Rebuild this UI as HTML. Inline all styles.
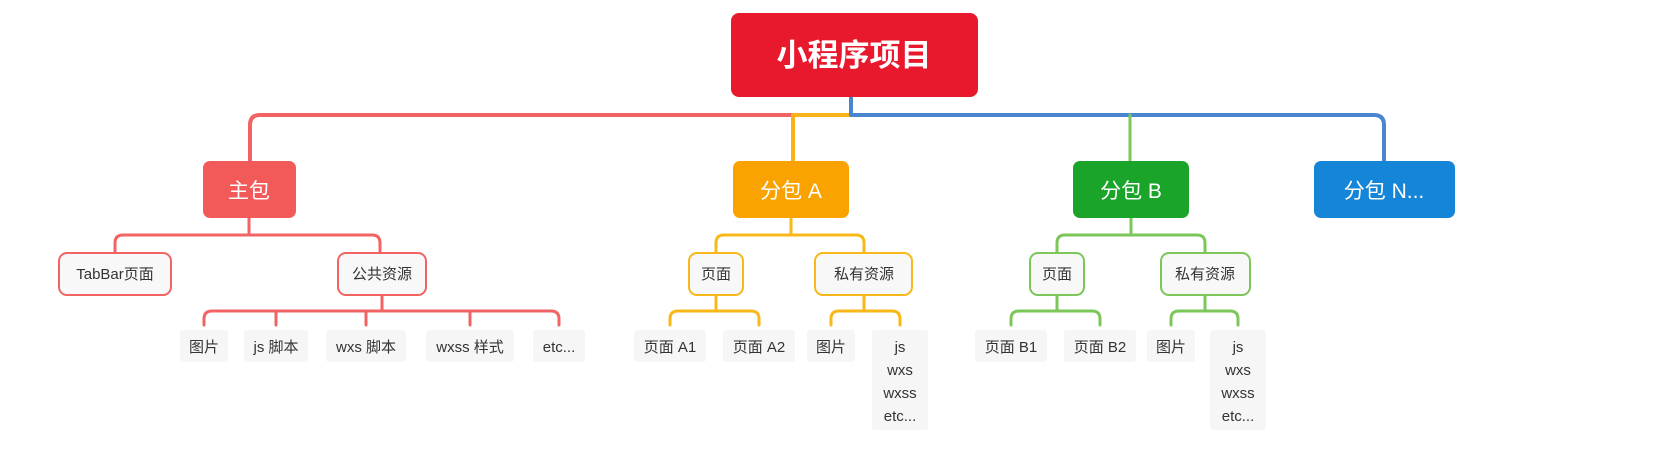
<!DOCTYPE html>
<html><head><meta charset="utf-8"><style>
html,body{margin:0;padding:0;background:#fff;width:1653px;height:450px;overflow:hidden}
svg text{font-family:"Liberation Sans","Noto Sans CJK SC",sans-serif}
</style></head><body>
<svg width="1653" height="450" viewBox="0 0 1653 450" xmlns="http://www.w3.org/2000/svg">
<g fill="none" stroke-linecap="round" stroke-linejoin="round">
<!-- main -->
<path d="M250 161 V125 Q250 115 260 115 H793" stroke="#f26464" stroke-width="4"/>
<path d="M793 161 V115 H851" stroke="#f8b21a" stroke-width="4"/>
<path d="M851 97 V115 H1374 Q1384 115 1384 125 V161" stroke="#4a86d0" stroke-width="4"/>
<path d="M1130 115 V161" stroke="#7cc65a" stroke-width="3"/>
<!-- red -->
<g stroke="#f26464" stroke-width="3">
<path d="M115 253 V243 Q115 235 123 235 H372 Q380 235 380 243 V253 M249 218 V235"/>
<path d="M204 325 V319 Q204 311 212 311 H551 Q559 311 559 319 V325 M276 311 V325 M366 311 V325 M470 311 V325 M382 295 V311"/>
</g>
<g stroke="#f8b81a" stroke-width="3">
<path d="M716 253 V243 Q716 235 724 235 H856 Q864 235 864 243 V253 M791 218 V235"/>
<path d="M670 325 V319 Q670 311 678 311 H751 Q759 311 759 319 V325 M716 295 V311"/>
<path d="M831 325 V319 Q831 311 839 311 H892 Q900 311 900 319 V325 M864 295 V311"/>
</g>
<g stroke="#7cc65a" stroke-width="3">
<path d="M1057 253 V243 Q1057 235 1065 235 H1197 Q1205 235 1205 243 V253 M1131 218 V235"/>
<path d="M1011 325 V319 Q1011 311 1019 311 H1092 Q1100 311 1100 319 V325 M1057 295 V311"/>
<path d="M1171 325 V319 Q1171 311 1179 311 H1230 Q1238 311 1238 319 V325 M1205 295 V311"/>
</g>
</g>
<!-- root -->
<rect x="731" y="13" width="247" height="84" rx="8" fill="#e8192c"/>
<text x="854" y="66" font-size="31" font-weight="bold" fill="#fff" text-anchor="middle">小程序项目</text>
<!-- level1 -->
<rect x="203" y="161" width="93" height="57" rx="7" fill="#f25a5a"/>
<text x="249" y="198" font-size="21" fill="#fff" text-anchor="middle">主包</text>
<rect x="733" y="161" width="116" height="57" rx="7" fill="#f9a200"/>
<text x="791" y="198" font-size="21" fill="#fff" text-anchor="middle">分包 A</text>
<rect x="1073" y="161" width="116" height="57" rx="7" fill="#1aa52a"/>
<text x="1131" y="198" font-size="21" fill="#fff" text-anchor="middle">分包 B</text>
<rect x="1314" y="161" width="141" height="57" rx="7" fill="#1585d8"/>
<text x="1384" y="198" font-size="21" fill="#fff" text-anchor="middle">分包 N...</text>
<!-- level2 -->
<g stroke-width="2" fill="#f8f8f8">
<rect x="59" y="253" width="112" height="42" rx="8" stroke="#f26464"/>
<rect x="338" y="253" width="88" height="42" rx="8" stroke="#f26464"/>
<rect x="689" y="253" width="54" height="42" rx="8" stroke="#f8b81a"/>
<rect x="815" y="253" width="97" height="42" rx="8" stroke="#f8b81a"/>
<rect x="1030" y="253" width="54" height="42" rx="8" stroke="#7cc65a"/>
<rect x="1161" y="253" width="89" height="42" rx="8" stroke="#7cc65a"/>
</g>
<g font-size="15" fill="#333" text-anchor="middle">
<text x="115" y="279">TabBar页面</text>
<text x="382" y="279">公共资源</text>
<text x="716" y="279">页面</text>
<text x="864" y="279">私有资源</text>
<text x="1057" y="279">页面</text>
<text x="1205" y="279">私有资源</text>
</g>
<!-- leaves bg -->
<g fill="#f6f6f6">
<rect x="180" y="330" width="48" height="32" rx="3"/>
<rect x="244" y="330" width="64" height="32" rx="3"/>
<rect x="326" y="330" width="80" height="32" rx="3"/>
<rect x="426" y="330" width="88" height="32" rx="3"/>
<rect x="533" y="330" width="52" height="32" rx="3"/>
<rect x="634" y="330" width="72" height="32" rx="3"/>
<rect x="723" y="330" width="72" height="32" rx="3"/>
<rect x="807" y="330" width="48" height="32" rx="3"/>
<rect x="872" y="330" width="56" height="100" rx="3"/>
<rect x="975" y="330" width="72" height="32" rx="3"/>
<rect x="1064" y="330" width="72" height="32" rx="3"/>
<rect x="1147" y="330" width="48" height="32" rx="3"/>
<rect x="1210" y="330" width="56" height="100" rx="3"/>
</g>
<g font-size="15" fill="#333" text-anchor="middle">
<text x="204" y="352">图片</text>
<text x="276" y="352">js 脚本</text>
<text x="366" y="352">wxs 脚本</text>
<text x="470" y="352">wxss 样式</text>
<text x="559" y="352">etc...</text>
<text x="670" y="352">页面 A1</text>
<text x="759" y="352">页面 A2</text>
<text x="831" y="352">图片</text>
<text x="900" y="352">js</text>
<text x="900" y="375">wxs</text>
<text x="900" y="398">wxss</text>
<text x="900" y="421">etc...</text>
<text x="1011" y="352">页面 B1</text>
<text x="1100" y="352">页面 B2</text>
<text x="1171" y="352">图片</text>
<text x="1238" y="352">js</text>
<text x="1238" y="375">wxs</text>
<text x="1238" y="398">wxss</text>
<text x="1238" y="421">etc...</text>
</g>
</svg>
</body></html>
